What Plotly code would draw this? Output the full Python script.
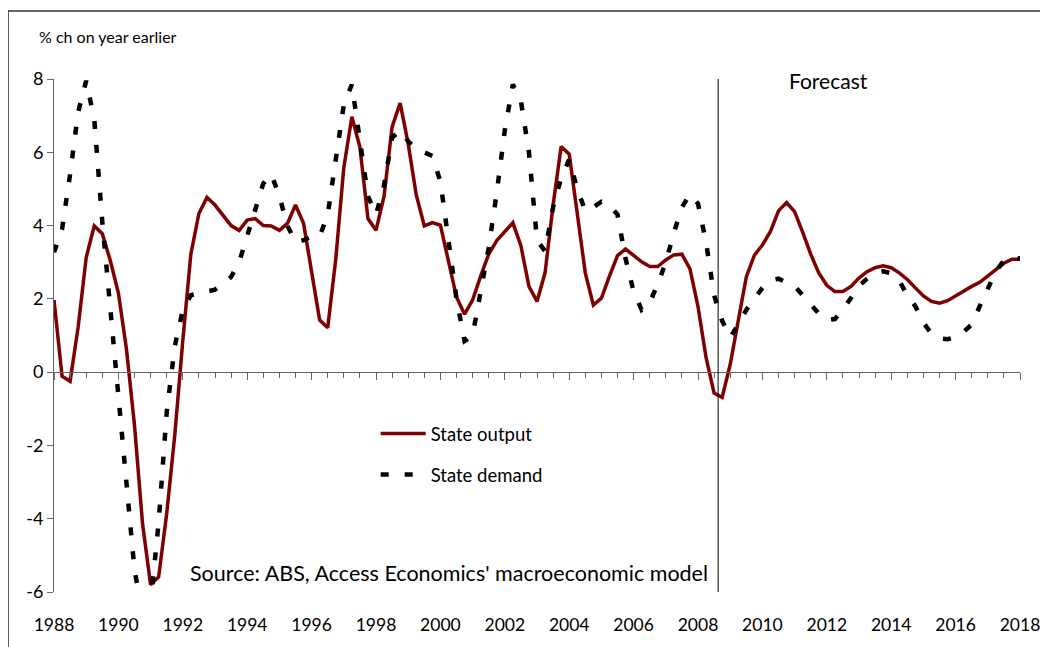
import numpy as np
import plotly.graph_objects as go

# Quarterly, % change on year earlier, 1988 Q1 .. 2018 Q1
state_output = [
    1.97, -0.11, -0.25, 1.23,   # 1988
    3.13, 3.99, 3.78, 3.04,     # 1989
    2.16, 0.63, -1.45, -4.14,   # 1990
    -5.80, -5.59, -3.86, -1.73, # 1991
    0.86, 3.22, 4.33, 4.77,     # 1992
    4.56, 4.29, 4.00, 3.87,     # 1993
    4.15, 4.19, 4.00, 3.99,     # 1994
    3.87, 4.06, 4.56, 4.06,     # 1995
    2.71, 1.42, 1.21, 3.08,     # 1996
    5.58, 6.97, 6.14, 4.19,     # 1997
    3.87, 4.80, 6.69, 7.34,     # 1998
    6.23, 4.84, 3.99, 4.08,     # 1999
    4.01, 3.08, 2.05, 1.58,     # 2000
    1.97, 2.62, 3.22, 3.59,     # 2001
    3.84, 4.08, 3.45, 2.34,     # 2002
    1.93, 2.71, 4.56, 6.16,     # 2003
    5.95, 4.38, 2.71, 1.83,     # 2004
    2.02, 2.62, 3.18, 3.36,     # 2005
    3.18, 3.01, 2.88, 2.88,     # 2006
    3.06, 3.20, 3.22, 2.82,     # 2007
    1.79, 0.40, -0.57, -0.69,   # 2008
    0.21, 1.46, 2.60, 3.19,     # 2009
    3.47, 3.84, 4.40, 4.63,     # 2010
    4.38, 3.82, 3.22, 2.71,     # 2011
    2.37, 2.20, 2.20, 2.34,     # 2012
    2.57, 2.74, 2.85, 2.90,     # 2013
    2.85, 2.71, 2.53, 2.30,     # 2014
    2.08, 1.93, 1.88, 1.95,     # 2015
    2.08, 2.22, 2.34, 2.45,     # 2016
    2.62, 2.81, 2.97, 3.08,     # 2017
    3.08,                       # 2018
]

state_demand = [
    3.27, 3.90, 5.40, 7.10,     # 1988
    7.95, 6.90, 4.10, 1.80,     # 1989
    -0.60, -3.10, -5.40, -6.60, # 1990
    -6.30, -4.10, -1.10, 0.70,  # 1991
    1.70, 2.10, 2.15, 2.20,     # 1992
    2.25, 2.40, 2.60, 3.00,     # 1993
    3.70, 4.50, 5.15, 5.40,     # 1994
    4.80, 4.00, 3.55, 3.60,     # 1995
    3.70, 3.70, 4.30, 5.80,     # 1996
    7.30, 7.85, 6.30, 4.80,     # 1997
    4.30, 5.10, 6.40, 6.60,     # 1998
    6.30, 6.10, 6.00, 5.90,     # 1999
    5.20, 3.70, 2.00, 0.85,     # 2000
    1.00, 2.20, 3.40, 4.90,     # 2001
    6.60, 7.85, 7.40, 6.00,     # 2002
    3.60, 3.30, 4.50, 5.30,     # 2003
    5.80, 5.00, 4.40, 4.50,     # 2004
    4.65, 4.55, 4.30, 3.10,     # 2005
    2.20, 1.70, 1.90, 2.40,     # 2006
    3.00, 3.80, 4.50, 4.85,     # 2007
    4.60, 3.55, 2.10, 1.40,     # 2008
    0.95, 1.30, 1.70, 2.00,     # 2009
    2.30, 2.50, 2.55, 2.45,     # 2010
    2.35, 2.10, 1.85, 1.60,     # 2011
    1.42, 1.45, 1.70, 2.00,     # 2012
    2.35, 2.55, 2.70, 2.75,     # 2013
    2.70, 2.50, 2.10, 1.80,     # 2014
    1.35, 1.05, 0.92, 0.90,     # 2015
    0.95, 1.10, 1.30, 1.80,     # 2016
    2.30, 2.75, 3.05, 3.15,     # 2017
    3.10,                       # 2018
]

quarters = 1988 + np.arange(len(state_output)) / 4
year_ticks = list(range(1988, 2019, 2))
y_ticks = [-6, -4, -2, 0, 2, 4, 6, 8]
y_ticktext = [str(v) for v in y_ticks]  # plain hyphen minus, as in the source
forecast_start = 2008.625

FONT = "Lato, 'Open Sans', sans-serif"
RED = "#800000"
AXIS = "#666666"

fig = go.Figure()
fig.add_trace(go.Scatter(
    x=quarters, y=state_output, mode="lines", name="State output",
    line=dict(color=RED, width=3.5), legendgroup="a",
))
fig.add_trace(go.Scatter(
    x=quarters, y=state_demand, mode="lines", name="State demand",
    line=dict(color="black", width=4.5, dash="8px,16px"), legendgroup="b",
    xaxis="x2",
))

# forecast divider
fig.add_shape(type="line", x0=forecast_start, x1=forecast_start, y0=-6, y1=8,
              xref="x", yref="y", line=dict(color="black", width=1))

# outer chart frame
fig.add_shape(type="rect", xref="paper", yref="paper",
              x0=-0.0476, x1=1.05, y0=-0.2, y1=1.1326,
              line=dict(color="#333333", width=1.5), layer="below")

fig.add_annotation(text="Forecast", x=2012.05, y=7.97, xref="x", yref="y",
                   showarrow=False, font=dict(size=21, color="black"))
fig.add_annotation(text="Source: ABS, Access Economics' macroeconomic model",
                   x=0.409, y=0.037, xref="paper", yref="paper",
                   xanchor="center", yanchor="middle", showarrow=False,
                   font=dict(size=21.5, color="black"))
fig.add_annotation(text="% ch on year earlier", x=-0.0176, y=1.0819,
                   xref="paper", yref="paper", xanchor="left", yanchor="middle",
                   showarrow=False, font=dict(size=16, color="black"))

# page body adds an 8px offset, so margins are shifted to keep the plot in place
fig.update_layout(
    width=1048, height=647,
    margin=dict(l=46, r=36, t=71, b=63),
    paper_bgcolor="white", plot_bgcolor="white",
    font=dict(family=FONT, color="black"),
    showlegend=True,
    legend=dict(x=0.333, y=0.345, xanchor="left", yanchor="top",
                font=dict(size=18.5), itemwidth=45, traceorder="grouped",
                tracegroupgap=14, bgcolor="rgba(0,0,0,0)"),
    xaxis=dict(range=[1988, 2018], tickvals=year_ticks, showline=False,
               showgrid=False, zeroline=False, ticks="",
               tickfont=dict(size=17.5), ticklabelstandoff=20),
    xaxis2=dict(range=[1988, 2018], overlaying="x", anchor="free",
                position=6 / 14, side="bottom", showline=True,
                linecolor=AXIS, linewidth=1, showgrid=False, zeroline=False,
                tickvals=year_ticks, ticks="outside", ticklen=7, tickcolor=AXIS,
                showticklabels=False,
                minor=dict(dtick=0.5, ticks="outside", ticklen=5,
                           tickcolor=AXIS, showgrid=False)),
    yaxis=dict(range=[-6, 8], tickvals=y_ticks, ticktext=y_ticktext,
               showline=True, linecolor=AXIS, linewidth=1, ticks="outside",
               ticklen=6, tickcolor=AXIS, showgrid=False, zeroline=False,
               tickfont=dict(size=18)),
)

fig.write_html("out.html")
